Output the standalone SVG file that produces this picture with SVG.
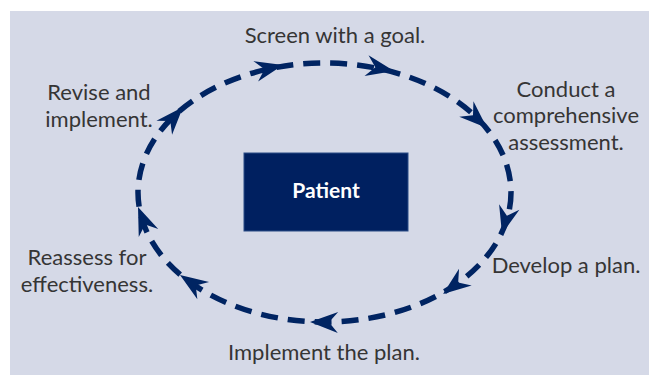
<svg xmlns="http://www.w3.org/2000/svg" width="649" height="375" viewBox="0 0 649 375">
  <defs>
    <style>
      .lbl { font-family: Lato, "Open Sans", "Liberation Sans", sans-serif; font-size: 22px; fill: #353535; text-anchor: middle; }
      .cycle { fill: none; stroke: #002462; stroke-width: 5.5; stroke-dasharray: 17 10; }
      .head { fill: #002462; }
      .ptxt { font-family: Lato, "Open Sans", "Liberation Sans", sans-serif; font-size: 21px; font-weight: bold; fill: #ffffff; text-anchor: middle; }
    </style>
    <path id="ah" d="M0,0 L-28,-10.5 L-19,0 L-28,10.5 Z"/>
  </defs>
  <rect x="10" y="11" width="639" height="364" fill="#d5d9e7"/>

  <g id="connectors">
    <ellipse class="cycle" cx="324.5" cy="192.5" rx="186.5" ry="129.5"/>
    <use href="#ah" class="head" transform="translate(283,65) rotate(-13)"/>
    <use href="#ah" class="head" transform="translate(394,71) rotate(11)"/>
    <use href="#ah" class="head" transform="translate(487,128) rotate(42.5)"/>
    <use href="#ah" class="head" transform="translate(502,234) rotate(105)"/>
    <use href="#ah" class="head" transform="translate(443,294) rotate(143)"/>
    <use href="#ah" class="head" transform="translate(310,322) rotate(181)"/>
    <use href="#ah" class="head" transform="translate(180,275) rotate(214)"/>
    <use href="#ah" class="head" transform="translate(138,207) rotate(248)"/>
    <use href="#ah" class="head" transform="translate(183,107) rotate(-48)"/>
  </g>

  <g id="patient">
    <rect x="244" y="153" width="164" height="78" fill="#002060" stroke="#2b4c86" stroke-width="1"/>
    <text class="ptxt" x="326" y="198">Patient</text>
  </g>

  <g id="screen">
    <text class="lbl" x="335" y="43">Screen with a goal.</text>
  </g>
  <g id="conduct">
    <text class="lbl" x="566" y="97">Conduct a</text>
    <text class="lbl" x="566" y="123">comprehensive</text>
    <text class="lbl" x="566" y="150">assessment.</text>
  </g>
  <g id="develop">
    <text class="lbl" x="566" y="273">Develop a plan.</text>
  </g>
  <g id="implement">
    <text class="lbl" x="324" y="360">Implement the plan.</text>
  </g>
  <g id="reassess">
    <text class="lbl" x="87" y="265">Reassess for</text>
    <text class="lbl" x="87" y="292">effectiveness.</text>
  </g>
  <g id="revise">
    <text class="lbl" x="99" y="100">Revise and</text>
    <text class="lbl" x="99" y="127">implement.</text>
  </g>
</svg>
